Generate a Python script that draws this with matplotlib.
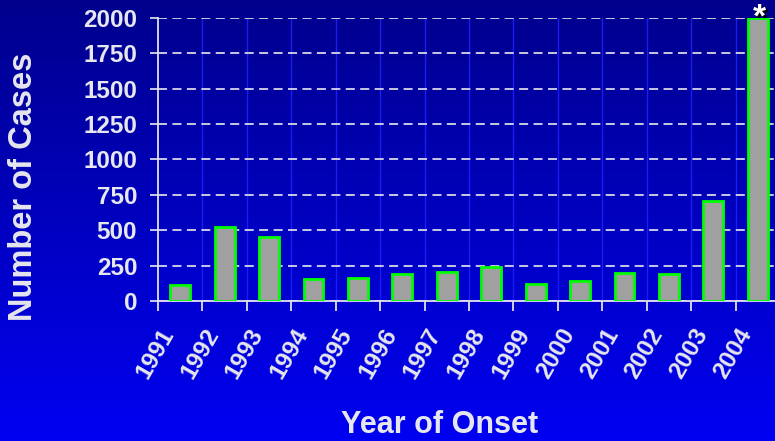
import numpy as np
import matplotlib
matplotlib.use("Agg")
import matplotlib.pyplot as plt
import matplotlib.transforms as mtransforms

years = ['1991', '1992', '1993', '1994', '1995', '1996', '1997',
         '1998', '1999', '2000', '2001', '2002', '2003', '2004']
cases = [113, 523, 452, 155, 163, 191, 205, 240, 120, 141, 198, 191, 707, 2000]
yticks = [0, 250, 500, 750, 1000, 1250, 1500, 1750, 2000]

txt = '#e6e6ee'
plt.rcParams['font.family'] = ['Liberation Sans', 'DejaVu Sans']
plt.rcParams['font.weight'] = 'bold'

fig = plt.figure(figsize=(7.75, 4.41), dpi=100)

# background gradient, dark navy top -> bright blue bottom
bg = fig.add_axes([0, 0, 1, 1], zorder=-10)
grad = np.linspace(0, 1, 256)
cols = np.zeros((256, 1, 3))
cols[:, 0, 2] = 0.55 + 0.40 * grad
bg.imshow(cols, aspect='auto', extent=[0, 1, 0, 1], origin='upper')
bg.axis('off')

ax = fig.add_axes([158 / 775, 1 - 301 / 441, 622 / 775, 283 / 441])
ax.patch.set_alpha(0)

x = np.arange(len(years))
ax.bar(x, cases, width=0.45, color='#a0a0a0', edgecolor='#00ff00',
       linewidth=2, zorder=3)

ax.set_xlim(-0.5, len(years) - 0.5)
ax.set_ylim(0, 2000)

# faint vertical separators
for b in np.arange(0.5, len(years) - 0.5, 1):
    ax.axvline(b, color='#1c1cf5', lw=1, zorder=1)

ax.set_yticks(yticks)
ax.set_yticklabels([str(v) for v in yticks])
ax.yaxis.grid(True, color='#d8d8e8', linestyle=(0, (5, 3)), lw=1.3, zorder=2)
ax.tick_params(axis='y', length=6, width=1.3, color='#d8d8e8', pad=9,
               labelsize=17.5, labelcolor=txt)

ax.set_xticks(np.arange(-0.5, len(years), 1))
ax.set_xticklabels([])
ax.set_xticks(x, minor=True)
ax.set_xticklabels(years, minor=True, rotation=60, ha='right',
                   va='center', rotation_mode='anchor')
ax.tick_params(axis='x', which='major', length=7, width=1.3, color='#e0e0f0')
ax.tick_params(axis='x', which='minor', length=0, pad=21, labelsize=17.5,
               labelcolor=txt)
shift = mtransforms.ScaledTranslation(-11 / 100, 0, fig.dpi_scale_trans)
for lab in ax.xaxis.get_minorticklabels():
    lab.set_transform(lab.get_transform() + shift)

for s in ['top', 'right']:
    ax.spines[s].set_visible(False)
for s in ['left', 'bottom']:
    ax.spines[s].set_color('#e0e0f0')
    ax.spines[s].set_linewidth(1.3)

fig.text(24 / 775, 1 - 187 / 441, 'Number of Cases', fontsize=23.5,
         fontweight='bold', color=txt, rotation=90, ha='center', va='center')
fig.text(440 / 775, 1 - 425 / 441, 'Year of Onset', fontsize=22,
         fontweight='bold', color=txt, ha='center', va='center')

# asterisk over the 2004 bar
fig.text(761 / 775, 1 - 20 / 441, '*', fontsize=24, color='black',
         ha='center', va='center')
fig.text(759 / 775, 1 - 18 / 441, '*', fontsize=24, color='white',
         ha='center', va='center')

fig.savefig('out.png', dpi=100)
